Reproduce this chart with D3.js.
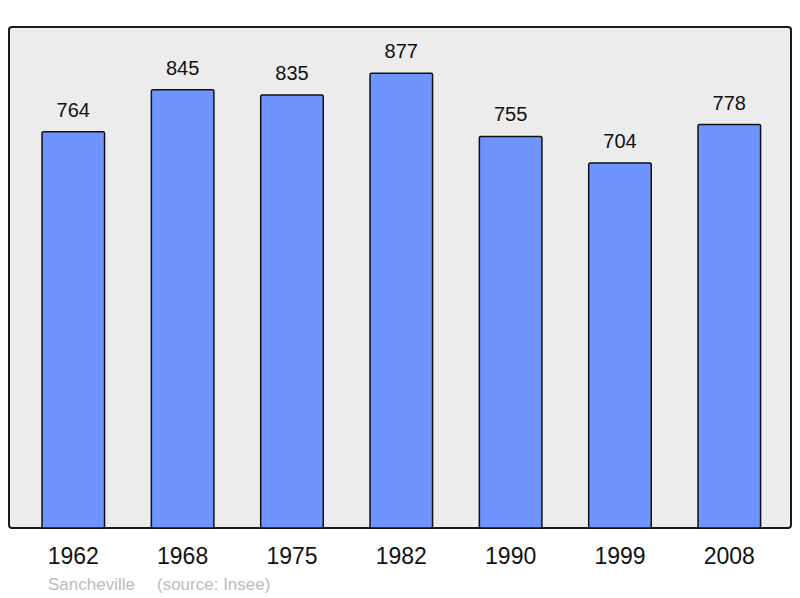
<!DOCTYPE html>
<meta charset="utf-8">
<script src="https://cdn.jsdelivr.net/npm/d3@7"></script>
<style>
body { margin: 0; background: #fff; }
text { font-family: "Liberation Sans", Arial, sans-serif; }
</style>
<body>
<script>

// data
var years = ["1962", "1968", "1975", "1982", "1990", "1999", "2008"];
var population = [764, 845, 835, 877, 755, 704, 778];

var width = 800,
    height = 598;

var svg = d3.select("body").append("svg")
    .attr("width", width)
    .attr("height", height);

var pLeft = 9, pRight = 791, pTop = 27, pBottom = 528;

// panel
svg.append("rect")
    .attr("x", pLeft)
    .attr("y", pTop)
    .attr("width", pRight - pLeft)
    .attr("height", pBottom - pTop)
    .attr("rx", 3)
    .style("fill", "#ececec")
    .style("stroke", "#1a1a1a")
    .style("stroke-width", 2);

var x = d3.scaleBand()
    .domain(years)
    .range([9, 793.6])
    .paddingInner(0.428)
    .paddingOuter(0.302);

var y = d3.scaleLinear()
    .domain([0, 966])
    .range([pBottom, pTop]);

var bar = svg.selectAll(".bar")
    .data(population)
  .enter().append("g")
    .attr("class", "bar");

bar.append("rect")
    .attr("x", function(d, i) { return x(years[i]); })
    .attr("y", function(d) { return y(d); })
    .attr("width", x.bandwidth())
    .attr("height", function(d) { return pBottom - y(d); })
    .attr("rx", 1.5)
    .style("fill", "#7094ff")
    .style("stroke", "#111")
    .style("stroke-width", 1.5);

bar.append("text")
    .attr("x", function(d, i) { return x(years[i]) + x.bandwidth() / 2; })
    .attr("y", function(d) { return y(d) - 15; })
    .attr("text-anchor", "middle")
    .style("font-size", "20px")
    .style("fill", "#111")
    .text(function(d) { return d; });

// year labels
svg.selectAll(".year")
    .data(years)
  .enter().append("text")
    .attr("class", "year")
    .attr("x", function(d) { return x(d) + x.bandwidth() / 2; })
    .attr("y", 564)
    .attr("text-anchor", "middle")
    .style("font-size", "23px")
    .style("fill", "#111")
    .text(function(d) { return d; });

svg.append("text")
    .attr("x", 48)
    .attr("y", 590)
    .style("font-size", "17px")
    .style("fill", "#bbb")
    .text("Sancheville");

svg.append("text")
    .attr("x", 157)
    .attr("y", 590)
    .style("font-size", "17px")
    .style("fill", "#bbb")
    .text("(source: Insee)");

</script>
</body>
</html>
